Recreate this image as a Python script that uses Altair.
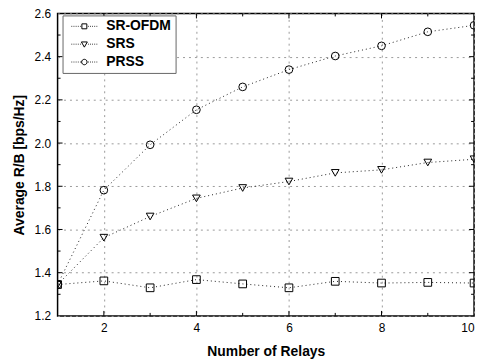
import altair as alt
import pandas as pd

# ---- data ----
relays = [1, 2, 3, 4, 5, 6, 7, 8, 9, 10]
sr_ofdm = [1.345, 1.362, 1.330, 1.368, 1.348, 1.330, 1.360, 1.352, 1.355, 1.352]
srs = [1.345, 1.562, 1.660, 1.744, 1.792, 1.822, 1.862, 1.876, 1.910, 1.925]
prss = [1.345, 1.782, 1.992, 2.154, 2.260, 2.340, 2.403, 2.450, 2.515, 2.545]
series_names = ["SR-OFDM", "SRS", "PRSS"]

x_labels = [2, 4, 6, 8, 10]
y_labels = [1.2, 1.4, 1.6, 1.8, 2.0, 2.2, 2.4, 2.6]
x_major = [2, 4, 6, 8]
x_minor = [3, 5, 7, 9]
y_major = [1.4, 1.6, 1.8, 2.0, 2.2, 2.4]
y_minor = [1.3, 1.5, 1.7, 1.9, 2.1, 2.3, 2.5]

rows = []
for name, vals in zip(series_names, [sr_ofdm, srs, prss]):
    for x, v in zip(relays, vals):
        rows.append({"series": name, "x": x, "y": v})
df = pd.DataFrame(rows)

W, H = 420, 305
FONT = "Liberation Sans"
xs = alt.Scale(domain=[1, 10], nice=False, zero=False)
ys = alt.Scale(domain=[1.2, 2.6], nice=False, zero=False)

x_axis = alt.Axis(
    title="Number of Relays", values=x_labels, format="d", ticks=False, domain=False,
    grid=True, gridDash=[2, 4], gridColor="#9a9a9a", gridWidth=1,
    labelPadding=7, titlePadding=11, labelFontSize=12, titleFontSize=14,
    titleFontWeight="bold", labelFontWeight="normal",
)
y_axis = alt.Axis(
    title="Average R/B [bps/Hz]", values=y_labels, format=".1f", ticks=False, domain=False,
    grid=True, gridDash=[2, 4], gridColor="#9a9a9a", gridWidth=1,
    labelPadding=7, titlePadding=8, labelFontSize=12, titleFontSize=14,
    titleFontWeight="bold", labelFontWeight="normal",
)

lines = alt.Chart(df).mark_line(
    strokeDash=[1, 3], color="#222222", strokeWidth=1, clip=True
).encode(
    x=alt.X("x:Q", scale=xs, axis=x_axis),
    y=alt.Y("y:Q", scale=ys, axis=y_axis),
    detail="series:N",
)

points = alt.Chart(df).mark_point(
    filled=False, color="black", opacity=1, size=60, strokeWidth=1, clip=True
).encode(
    x=alt.X("x:Q", scale=xs, axis=x_axis),
    y=alt.Y("y:Q", scale=ys, axis=y_axis),
    shape=alt.Shape("series:N",
                    scale=alt.Scale(domain=series_names,
                                    range=["square", "triangle-down", "circle"]),
                    legend=None),
)

# legend symbols: dotted line with marker (custom paths, 1 unit = 7px)
dots_l = "".join(f"M{v},0h0.15" for v in [-2.6, -2.17, -1.74, -1.31, -0.88])
dots_r = "".join(f"M{v},0h0.15" for v in [0.73, 1.16, 1.59, 2.02, 2.45])
sym_square = dots_l + "M-0.5,-0.5h1v1h-1z" + dots_r
sym_tri = dots_l + "M-0.6,-0.45h1.2L0,0.6z" + dots_r
sym_circ = dots_l + "M-0.55,0a0.55,0.55 0 1,0 1.1,0a0.55,0.55 0 1,0 -1.1,0" + dots_r

legend_layer = alt.Chart(df).transform_filter("datum.x > 100").mark_point(
    filled=False, color="black", opacity=1, size=196, strokeWidth=1
).encode(
    x=alt.X("x:Q", scale=xs, axis=x_axis),
    y=alt.Y("y:Q", scale=ys, axis=y_axis),
    shape=alt.Shape("series:N",
                    scale=alt.Scale(domain=series_names,
                                    range=[sym_square, sym_tri, sym_circ]),
                    legend=alt.Legend(
                        title=None, orient="none", legendX=5, legendY=2,
                        padding=4, symbolOffset=11, labelOffset=15, rowPadding=4,
                        labelFont=FONT, labelFontSize=14, labelFontWeight="bold",
                        labelColor="black", fillColor="white", strokeColor="#666666",
                        symbolStrokeColor="black", symbolStrokeWidth=1,
                    )),
)


def xticks(vals, length, top):
    y0 = 0 if top else H
    y1 = length if top else H - length
    return alt.Chart(pd.DataFrame({"x": vals})).mark_rule(color="black", strokeWidth=1).encode(
        x=alt.X("x:Q", scale=xs, axis=x_axis), y=alt.value(y0), y2=alt.value(y1))


def yticks(vals, length, right):
    x0 = W if right else 0
    x1 = W - length if right else length
    return alt.Chart(pd.DataFrame({"y": vals})).mark_rule(color="black", strokeWidth=1).encode(
        y=alt.Y("y:Q", scale=ys, axis=y_axis), x=alt.value(x0), x2=alt.value(x1))


ticks = [
    xticks(x_major, 5, False), xticks(x_minor, 3, False),
    xticks(x_major, 5, True), xticks(x_minor, 3, True),
    yticks(y_major, 5, False), yticks(y_minor, 3, False),
    yticks(y_major, 5, True), yticks(y_minor, 3, True),
]

chart = alt.layer(lines, points, legend_layer, *ticks).resolve_scale(
    shape="independent"
).properties(
    width=W, height=H,
    autosize=alt.AutoSizeParams(type="none"),
    padding={"left": 50, "top": 4, "right": 8, "bottom": 43},
    background="white",
).configure_view(
    stroke="black", strokeWidth=1.5
).configure_axis(
    labelFont=FONT, titleFont=FONT, labelColor="black", titleColor="black"
)

chart.save("out.html", embed_options={"renderer": "svg", "actions": False})
